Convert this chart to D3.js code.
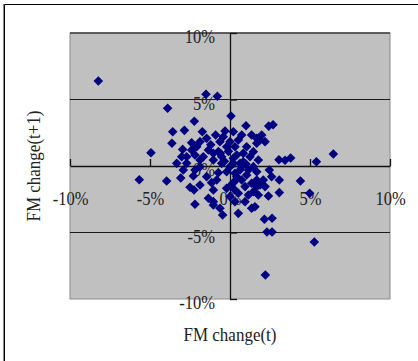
<!DOCTYPE html>
<html>
<head>
<meta charset="utf-8">
<script src="https://cdn.jsdelivr.net/npm/d3@7"></script>
<style>
  html, body { margin: 0; padding: 0; background: #fff; }
  svg { display: block; }
</style>
</head>
<body>
<svg id="chart" width="418" height="361"></svg>
<script>
// ---- Data (FM change(t) %, FM change(t+1) %) ----
const fmChangeT = [
  -8.23, -1.5, -0.79, -3.9, 0.06, -2.23, 1.0, 2.42, 2.69, -3.58,
  -2.85, -1.73, -0.9, -0.31, 0.21, 0.73, 1.35, 1.98, 1.67, 2.19,
  -3.63, -2.4, -1.46, -0.63, 0.0, 0.52, -4.94, -2.96, -2.08, -1.35,
  -0.73, -0.21, 1.04, 1.67, -3.02, -2.19, -1.04, -0.52, 0.42, 1.25,
  1.77, 3.06, 3.44, 3.79, 6.46, 5.4, -3.33, -2.71, -1.875, 0.21,
  0.83, -2.92, -2.19, -0.73, -0.21, 0.625, 1.46, 2.46, -5.67, -3.96,
  -3.08, -2.29, 0.42, 1.04, 1.67, 2.08, 2.6, 3.08, 4.4, -1.15,
  0.21, -2.5, -2.25, -1.04, -0.21, 0.31, 1.67, 2.19, 2.4, 3.08,
  4.98, 0.52, 1.15, 1.77, -1.35, -1.04, 0.31, 0.94, -2.19, -1.04,
  -0.625, 1.35, 1.56, 0.52, -0.46, 2.15, 2.63, 2.31, 2.63, 5.27,
  2.21, 0.21, 0.625, 0.0, 0.73, 1.15, 0.31, -0.52, -1.04, -1.67,
  -1.875, -2.71, -1.46, -0.83, 1.35, 1.875, 0.94, 1.46, 0.0, -1.875,
  -2.4, -1.875, -0.42, 0.31, 0.83, 1.46, 1.875, 1.67, 0.73,
  -0.1, 0.45, -0.35, 1.0, -1.2, 0.1, -0.6
];
const fmChangeT1 = [
  6.39, 5.4, 5.24, 4.34, 3.76, 3.36, 3.03, 3.0, 3.1, 2.58,
  2.68, 2.58, 2.33, 2.63, 2.58, 2.33, 2.33, 2.33, 2.08, 1.83,
  1.71, 1.75, 2.08, 1.83, 1.83, 1.95, 1.0, 1.25, 1.45, 1.2,
  1.08, 1.45, 1.45, 1.71, 0.7, 0.83, 0.95, 0.7, 0.83, 0.7,
  0.45, 0.47, 0.43, 0.6, 0.9, 0.32, 0.2, 0.2, 0.45, 0.2,
  0.32, -0.3, -0.3, -0.5, -0.43, -0.3, -0.05, -0.3, -1.03, -1.13,
  -0.9, -0.75, -0.8, -0.68, -1.05, -1.05, -0.8, -1.05, -1.13, -1.25,
  -1.25, -1.6, -1.8, -1.8, -1.68, -1.8, -1.55, -1.55, -2.26, -2.0,
  -2.05, -2.05, -2.18, -2.18, -2.43, -2.68, -2.68, -2.68, -2.88, -2.93,
  -3.18, -3.18, -3.06, -3.56, -3.68, -4.0, -3.93, -4.96, -4.96, -5.71,
  -8.2, 0.58, 0.2, -0.05, -0.05, -0.3, -0.55, 0.2, 0.45, 0.7,
  -0.05, 0.7, -0.8, -1.05, -1.3, -1.43, -1.55, -1.93, -2.3, -1.43,
  1.2, 1.83, 2.2, 1.45, 0.95, 1.08, 1.95, -0.43, -1.05,
  1.1, -0.95, 0.35, 0.15, 1.6, -1.4, 0.95
];
const xTicks = [-10, -5, 0, 5, 10];
const yTicks = [-10, -5, 0, 5, 10];
const gridValues = [5, -5];
const xTitle = "FM change(t)";
const yTitle = "FM change(t+1)";

const points = fmChangeT.map((v, i) => ({ x: v, y: fmChangeT1[i] }));

const svg = d3.select("#chart");
const font = "'Liberation Serif', 'Times New Roman', serif";

// outer frame (left and top visible)
svg.append("path")
  .attr("d", "M4.5,361V4.5H418")
  .attr("fill", "none").attr("stroke", "#000").attr("stroke-width", 1);
svg.append("line").attr("x1", 3.5).attr("x2", 3.5).attr("y1", 4).attr("y2", 361)
  .attr("stroke", "#888").attr("stroke-width", 1);

const x = d3.scaleLinear().domain([-10, 10]).range([70, 390]);
const y = d3.scaleLinear().domain([-10, 10]).range([299, 33]);

// plot area
svg.append("rect")
  .attr("x", x(-10)).attr("y", y(10))
  .attr("width", x(10) - x(-10)).attr("height", y(-10) - y(10))
  .attr("fill", "#c0c0c0").attr("stroke", "#8a8a8a").attr("stroke-width", 1);

// top edge darker
svg.append("line")
  .attr("x1", x(-10)).attr("x2", x(10)).attr("y1", y(10)).attr("y2", y(10))
  .attr("stroke", "#404040").attr("stroke-width", 1.3);

// gridlines
svg.selectAll("line.grid").data(gridValues).join("line")
  .attr("class", "grid")
  .attr("x1", x(-10)).attr("x2", x(10))
  .attr("y1", d => y(d)).attr("y2", d => y(d))
  .attr("stroke", "#1a1a1a").attr("stroke-width", 1.2);

// x axis at y=0
const gx = svg.append("g")
  .attr("transform", `translate(0,${y(0)})`)
  .call(d3.axisBottom(x).tickValues(xTicks).tickSizeInner(-7).tickSizeOuter(0)
    .tickFormat(d => d + "%"));
gx.select(".domain").attr("stroke", "#111").attr("stroke-width", 1.3);
gx.selectAll(".tick line").attr("stroke", "#111").attr("stroke-width", 1.3);
gx.selectAll(".tick text")
  .attr("y", 0).attr("dy", 0)
  .attr("transform", "translate(0,39) scale(1,1.15)")
  .attr("font-family", font).attr("font-size", 16.5)
  .attr("fill", "#222").attr("text-anchor", "middle");

// y axis at x=0
const gy = svg.append("g")
  .attr("transform", `translate(${x(0)},0)`)
  .call(d3.axisLeft(y).tickValues(yTicks).tickSizeInner(-7).tickSizeOuter(0)
    .tickFormat(d => d + "%"));
gy.select(".domain").attr("stroke", "#111").attr("stroke-width", 1.3);
gy.selectAll(".tick line").attr("stroke", "#111").attr("stroke-width", 1.3);
gy.selectAll(".tick text")
  .attr("x", 0).attr("dy", 0)
  .attr("transform", "translate(-15,9.5) scale(1,1.15)")
  .attr("font-family", font).attr("font-size", 16.5)
  .attr("fill", "#222").attr("text-anchor", "end");

// points (diamonds)
const diamond = d3.symbol().type(d3.symbolSquare).size(46);
svg.append("g").selectAll("path").data(points).join("path")
  .attr("d", diamond)
  .attr("transform", d => `translate(${x(d.x)},${y(d.y)}) rotate(45)`)
  .attr("fill", "#000080");

// axis titles
svg.append("text")
  .attr("transform", `translate(${x(0)},340.5) scale(1,1.12)`)
  .attr("text-anchor", "middle")
  .attr("font-family", font).attr("font-size", 17)
  .attr("fill", "#222")
  .text(xTitle);

svg.append("text")
  .attr("transform", `translate(39.5,${y(0)}) rotate(-90) scale(1,1.12)`)
  .attr("text-anchor", "middle")
  .attr("font-family", font).attr("font-size", 17)
  .attr("fill", "#222")
  .text(yTitle);
</script>
</body>
</html>
